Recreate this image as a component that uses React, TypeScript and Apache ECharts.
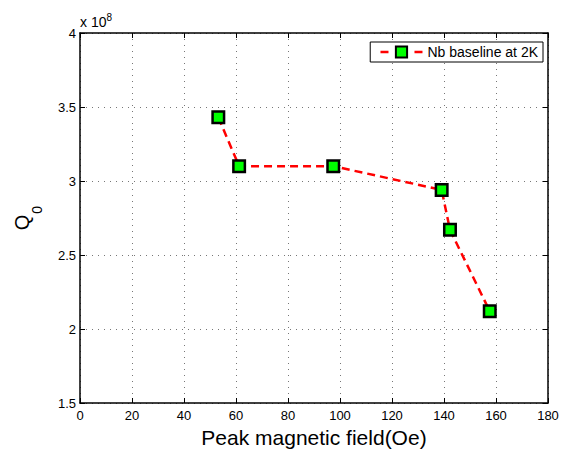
import React, { useEffect, useRef } from "react";
import * as echarts from "echarts";

const fieldOe = [53.2, 61.2, 97.4, 139.1, 142.3, 157.6];
const q0Values = [3.43e8, 3.1e8, 3.1e8, 2.94e8, 2.67e8, 2.12e8];
const seriesName = "Nb baseline at 2K";
const xTitle = "Peak magnetic field(Oe)";

const FONT = "Liberation Sans, Arial, Helvetica, sans-serif";

export default function App() {
  const ref = useRef<HTMLDivElement>(null);
  useEffect(() => {
    if (!ref.current) return;
    const chart = echarts.init(ref.current, undefined, { renderer: "svg" });
    const gridLine = { show: true, lineStyle: { color: "#777", type: [1, 5] as any, width: 1 } };
    const axisLine = { show: true, onZero: false, lineStyle: { color: "#000", width: 1.5 } };
    const tick = { show: true, inside: true, length: 5, lineStyle: { color: "#000", width: 1 } };
    chart.setOption({
      animation: false,
      backgroundColor: "#fff",
      textStyle: { fontFamily: FONT },
      grid: { left: 80, top: 33, right: 19, bottom: 46, containLabel: false, outerBoundsMode: "none" },
      legend: {
        show: true,
        right: 24,
        top: 42,
        orient: "horizontal",
        backgroundColor: "#fff",
        borderColor: "#000",
        borderWidth: 1,
        borderRadius: 0,
        padding: [3, 5, 3, 9],
        itemWidth: 42,
        itemHeight: 14,
        itemGap: 5,
        textStyle: { fontSize: 14, color: "#000", fontFamily: FONT },
        lineStyle: { type: [8, 26] as any, width: 2.5, color: "#ff0000" },
        data: [seriesName],
      },
      xAxis: [
        {
          type: "value",
          min: 0,
          max: 180,
          interval: 20,
          position: "bottom",
          name: xTitle,
          nameLocation: "middle",
          nameGap: 22,
          nameTextStyle: { fontSize: 21, color: "#000", fontFamily: FONT },
          axisLine,
          axisTick: tick,
          axisLabel: { fontSize: 13, color: "#000", margin: 6, fontFamily: FONT },
          splitLine: gridLine,
        },
        {
          type: "value",
          min: 0,
          max: 180,
          interval: 20,
          position: "top",
          axisLine,
          axisTick: tick,
          axisLabel: { show: false },
          splitLine: { show: false },
        },
      ],
      yAxis: [
        {
          type: "value",
          min: 1.5e8,
          max: 4e8,
          interval: 0.5e8,
          position: "left",
          name: "{q|Q}{s|0}",
          nameLocation: "middle",
          nameRotate: 90,
          nameGap: 36,
          nameTextStyle: {
            color: "#000",
            rich: {
              q: { fontSize: 20, fontFamily: FONT, color: "#000", verticalAlign: "top" },
              s: { fontSize: 14, fontFamily: FONT, color: "#000", verticalAlign: "bottom", padding: [18, 0, 0, 1] },
            },
          },
          axisLine,
          axisTick: tick,
          axisLabel: {
            fontSize: 13,
            color: "#000",
            margin: 4,
            fontFamily: FONT,
            formatter: (v: number) => String(Math.round((v / 1e8) * 10) / 10),
          },
          splitLine: gridLine,
        },
        {
          type: "value",
          min: 1.5e8,
          max: 4e8,
          interval: 0.5e8,
          position: "right",
          axisLine,
          axisTick: tick,
          axisLabel: { show: false },
          splitLine: { show: false },
        },
      ],
      graphic: [
        {
          type: "text",
          left: 80,
          top: 12,
          style: {
            text: "{a|x 10}{b|8}",
            fontSize: 13,
            fontFamily: FONT,
            fill: "#000",
            rich: {
              a: { fontSize: 14, fontFamily: FONT, fill: "#000", verticalAlign: "bottom", padding: [3, 0, 0, 0] },
              b: { fontSize: 10, fontFamily: FONT, fill: "#000", verticalAlign: "top" },
            },
          },
        },
      ],
      series: [
        {
          name: seriesName,
          type: "line",
          xAxisIndex: 0,
          yAxisIndex: 0,
          data: fieldOe.map((x, i) => [x, q0Values[i]]),
          symbol: "rect",
          symbolSize: 11.5,
          lineStyle: { color: "#ff0000", width: 2.5, type: [8, 5] as any },
          itemStyle: { color: "#00ff00", borderColor: "#000", borderWidth: 2.5 },
          z: 5,
        },
      ],
    });
    return () => chart.dispose();
  }, []);
  return <div ref={ref} style={{ position: "absolute", left: 0, top: 0, width: 567, height: 449 }} />;
}
